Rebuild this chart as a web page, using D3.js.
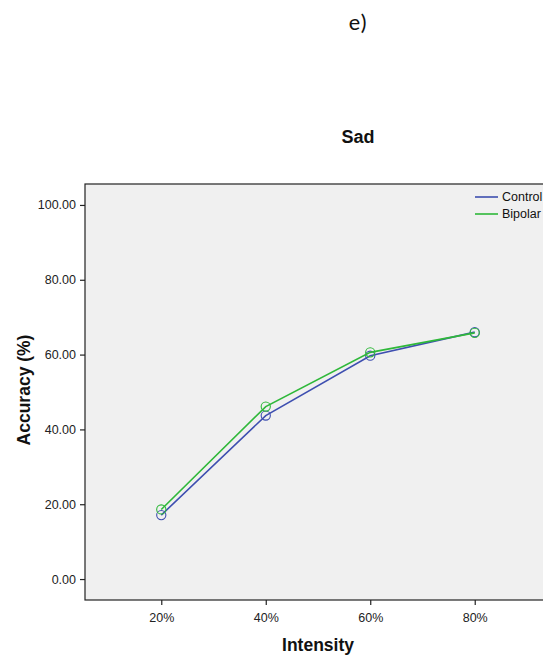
<!DOCTYPE html>
<html>
<head>
<meta charset="utf-8">
<script src="https://cdn.jsdelivr.net/npm/d3@7"></script>
<style>
  html, body { margin: 0; padding: 0; background: #ffffff; }
  svg { display: block; }
</style>
</head>
<body>
<svg id="chart" width="543" height="659"></svg>
<script>
// Accuracy by emotion intensity, Sad faces
const categories = ["20%", "40%", "60%", "80%"];
const controlValues = [17.1, 43.7, 59.7, 66.0];
const bipolarValues = [18.6, 46.1, 60.6, 65.8];
const yTicks = [0, 20, 40, 60, 80, 100];
const seriesNames = ["Control", "Bipolar"];
const seriesColors = ["#3e4fb0", "#2fb83a"];

const svg = d3.select("#chart");
const plot = { left: 85, top: 184, right: 551, bottom: 600 };
const sans = "'Liberation Sans', Arial, sans-serif";

const x = d3.scalePoint().domain(categories).range([plot.left, plot.right]).padding(0.73);
const y = d3.scaleLinear().domain([-5.6, 105.6]).range([plot.bottom, plot.top]);

// Panel label and title
svg.append("text").attr("x", 358).attr("y", 30).attr("text-anchor", "middle")
  .attr("font-family", "Carlito, 'Liberation Sans', sans-serif").attr("font-size", 23).attr("fill", "#111")
  .text("e)");
svg.append("text").attr("x", 358).attr("y", 143).attr("text-anchor", "middle")
  .attr("font-family", sans).attr("font-weight", "bold").attr("font-size", 18).attr("fill", "#111")
  .text("Sad");

// Plot background
svg.append("rect").attr("x", plot.left).attr("y", plot.top)
  .attr("width", plot.right - plot.left).attr("height", plot.bottom - plot.top)
  .attr("fill", "#f0f0f0").attr("stroke", "#222").attr("stroke-width", 1.2);

// Axes
const yAxis = d3.axisLeft(y).tickValues(yTicks).tickFormat(d3.format(".2f")).tickSize(5).tickSizeOuter(0);
const gy = svg.append("g").attr("transform", `translate(${plot.left},0)`).call(yAxis);
gy.select(".domain").remove();
gy.selectAll("text").attr("font-family", sans).attr("font-size", 12.5).attr("fill", "#222").attr("dx", "-1");
gy.selectAll("line").attr("stroke", "#222").attr("stroke-width", 1.2);

const xAxis = d3.axisBottom(x).tickSize(5).tickSizeOuter(0);
const gx = svg.append("g").attr("transform", `translate(0,${plot.bottom})`).call(xAxis);
gx.select(".domain").remove();
gx.selectAll("text").attr("font-family", sans).attr("font-size", 12.5).attr("fill", "#222").attr("dy", "1.1em");
gx.selectAll("line").attr("stroke", "#222").attr("stroke-width", 1.2);

// Axis titles
svg.append("text").attr("x", 318).attr("y", 651).attr("text-anchor", "middle")
  .attr("font-family", sans).attr("font-weight", "bold").attr("font-size", 17.5).attr("fill", "#111")
  .text("Intensity");
svg.append("text").attr("transform", "translate(30,390) rotate(-90)").attr("text-anchor", "middle")
  .attr("font-family", sans).attr("font-weight", "bold").attr("font-size", 17.5).attr("fill", "#111")
  .text("Accuracy (%)");

// Series lines and markers
const series = [controlValues, bipolarValues];
const line = d3.line().x((d, i) => x(categories[i])).y(d => y(d));
series.forEach((vals, s) => {
  svg.append("path").datum(vals).attr("d", line)
    .attr("fill", "none").attr("stroke", seriesColors[s]).attr("stroke-width", 1.6);
  svg.selectAll(null).data(vals).enter().append("circle")
    .attr("cx", (d, i) => x(categories[i])).attr("cy", d => y(d)).attr("r", 4.6)
    .attr("fill", "none").attr("stroke", seriesColors[s]).attr("stroke-width", 1.1);
});

// Legend
const legend = svg.append("g");
seriesNames.forEach((name, i) => {
  const ly = 197 + i * 17;
  legend.append("line").attr("x1", 475).attr("x2", 498).attr("y1", ly).attr("y2", ly)
    .attr("stroke", seriesColors[i]).attr("stroke-width", 1.6);
  legend.append("text").attr("x", 502).attr("y", ly + 4)
    .attr("font-family", sans).attr("font-size", 12.5).attr("fill", "#111")
    .text(name);
});
</script>
</body>
</html>
